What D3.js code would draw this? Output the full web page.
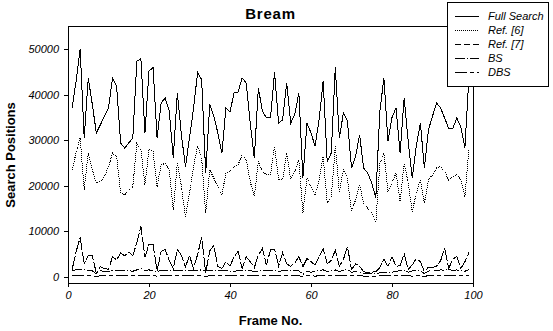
<!DOCTYPE html>
<html><head><meta charset="utf-8">
<script src="https://cdn.jsdelivr.net/npm/d3@7"></script>
<style>
html,body{margin:0;padding:0;background:#fff;}
svg{display:block;font-family:"Liberation Sans",Arial,sans-serif;}
</style></head>
<body>
<svg id="chart" width="553" height="331"></svg>
<script>
const frames = d3.range(1, 100);
const fullSearch = [37100,43000,50100,30500,43700,37900,31600,33400,35300,37000,43700,41900,29400,28300,29400,30500,47400,47900,31600,45200,46000,30500,38200,39300,36400,26100,40400,31200,24200,30500,37000,44900,43300,22800,37900,35300,31600,27200,37100,36200,40400,40600,43700,42600,33800,26100,41500,36400,34900,34900,44900,33800,34500,42600,33800,35700,40400,21700,33800,31600,28700,34500,43000,25300,27200,46000,30500,36000,34200,23900,26400,31200,23900,22800,20600,17300,36400,43700,29800,35000,37100,27200,39300,29800,21700,28700,33800,23900,32300,35300,38200,37100,34900,32600,32600,34900,32900,28300,44000];
const ref6 = [23500,27200,30500,19100,27200,23500,20600,20900,22000,24200,27200,26400,18400,18000,19100,19800,29400,28000,20200,28000,27600,19800,24600,24900,23500,14700,24900,19800,13200,18400,24200,28700,26100,14000,23500,21700,19800,18000,22800,23100,24200,24600,26800,25700,20900,17600,25300,23100,22400,22400,28700,21300,21300,27200,21300,23100,25700,14000,21700,19800,18000,21300,26400,16200,17300,28700,18700,23500,21700,14300,16900,20200,16200,15000,14000,11900,24900,27200,18700,20600,22800,16600,24900,20600,14300,18400,21300,16200,21300,22400,23900,24200,23100,21300,22000,22400,21300,17600,28000];
const ref7 = [1500,5500,8600,2900,4700,4700,700,2200,1800,1600,4400,3700,5200,4600,5400,4600,7500,11100,4300,7100,7100,1300,5500,6000,3500,1800,6000,4700,2200,4600,1800,4900,8600,900,5700,6900,2300,1800,3300,2400,4300,5600,1800,4400,3300,2000,4700,6200,2500,5900,6000,2400,5300,2800,2300,3000,4400,2200,4000,3300,2600,4400,6200,2800,3600,5800,2300,3800,6600,1600,2800,2300,1100,900,1000,1100,2000,3800,2300,4400,2300,2400,5100,1600,2600,4000,3300,1100,2100,2000,2300,3500,6300,1800,3800,4500,1800,3300,5300];
const bs = [1400,1500,1600,1500,1400,1300,600,1300,1200,1100,1300,1300,1300,1400,1300,1200,1500,1900,1400,1500,1300,1200,1300,1300,1400,1300,1300,1400,1300,1300,1400,1400,1500,1300,1300,1400,1300,1300,1300,1200,1200,1300,1300,1300,1300,1200,1200,1300,1300,1300,1300,1200,1300,1300,1400,1400,1300,500,1200,1000,1200,1400,1500,1100,1300,1500,1100,1400,1600,1000,1100,900,800,700,800,600,900,900,900,1000,1200,1300,1500,1000,1300,1400,1200,700,1200,1500,1300,1500,1400,1600,1400,1500,1300,1200,1600];
const dbs = [250,250,300,250,250,250,0,250,250,250,250,250,250,250,300,250,250,350,250,250,250,100,250,250,250,200,250,250,250,250,250,250,300,50,250,250,250,250,250,250,250,250,250,250,250,250,250,250,250,250,250,250,250,250,250,250,250,0,250,250,100,250,300,250,250,250,250,250,250,200,200,200,150,100,150,0,200,250,250,250,250,250,250,250,100,250,250,50,250,250,250,250,250,300,250,250,250,250,300];
const xTicks = [0,20,40,60,80,100];
const yTicks = [0,10000,20000,30000,40000,50000];
const seriesNames = ["Full Search","Ref. [6]","Ref. [7]","BS","DBS"];
const seriesData = [fullSearch, ref6, ref7, bs, dbs];
const legendDashes = [null, "1,1", "6,3", "10,2,1,2", "12,3,4,3"];
const plotDashes = [null, "1,1", "14,2", "10,2,1,2", "12,3,4,3"];

const svg = d3.select("#chart");
const L = 68, R = 473, T = 26, B = 283;
const x = d3.scaleLinear().domain([0,100]).range([L, R]);
const y = d3.scaleLinear().domain([0,50000]).range([276.7, 49.3]);

svg.append("rect").attr("x", L).attr("y", T).attr("width", R-L).attr("height", B-T)
  .attr("fill","none").attr("stroke","#000").attr("shape-rendering","crispEdges");

const line = d3.line().x((d,i)=>x(frames[i])).y(d=>y(d));
seriesData.forEach((s,k)=>{
  svg.append("path").datum(s).attr("d", line).attr("fill","none")
    .attr("stroke","#000").attr("stroke-width",1)
    .attr("stroke-dasharray", plotDashes[k])
    .attr("shape-rendering","crispEdges");
});

const yAxis = d3.axisLeft(y).tickValues(yTicks).tickSize(4).tickPadding(5).tickFormat(d3.format("d"));
const gy = svg.append("g").attr("transform",`translate(${L},0)`).call(yAxis);
gy.select(".domain").remove();
const xAxis = d3.axisBottom(x).tickValues(xTicks).tickSize(4).tickPadding(4).tickFormat(d3.format("d"));
const gx = svg.append("g").attr("transform",`translate(0,${B})`).call(xAxis);
gx.select(".domain").remove();
[gx,gy].forEach(g=>{
  g.selectAll("line").attr("stroke","#000").attr("shape-rendering","crispEdges");
  g.selectAll("text").attr("font-family","'Liberation Sans',Arial,sans-serif")
    .attr("font-size","11px").attr("font-style","italic").attr("fill","#000");
});

svg.append("text").attr("x",270.5).attr("y",19).attr("text-anchor","middle")
  .attr("font-size","15px").attr("font-weight","bold").attr("letter-spacing","0.8px").text("Bream");
svg.append("text").attr("x",270.5).attr("y",325).attr("text-anchor","middle")
  .attr("font-size","13px").attr("font-weight","bold").text("Frame No.");
svg.append("text").attr("transform","translate(15,155) rotate(-90)").attr("text-anchor","middle")
  .attr("font-size","13px").attr("font-weight","bold").text("Search Positions");

const lg = svg.append("g");
lg.append("rect").attr("x",447).attr("y",2).attr("width",101).attr("height",84)
  .attr("fill","#fff").attr("stroke","#000").attr("shape-rendering","crispEdges");
seriesNames.forEach((n,k)=>{
  const cy = 16 + k*14;
  lg.append("line").attr("x1",455).attr("x2",479).attr("y1",cy+0.5).attr("y2",cy+0.5)
    .attr("stroke","#000").attr("stroke-dasharray",legendDashes[k]).attr("shape-rendering","crispEdges");
  lg.append("text").attr("x",488).attr("y",cy+4).attr("font-size","11px")
    .attr("font-style","italic").text(n);
});
</script>
</body></html>
